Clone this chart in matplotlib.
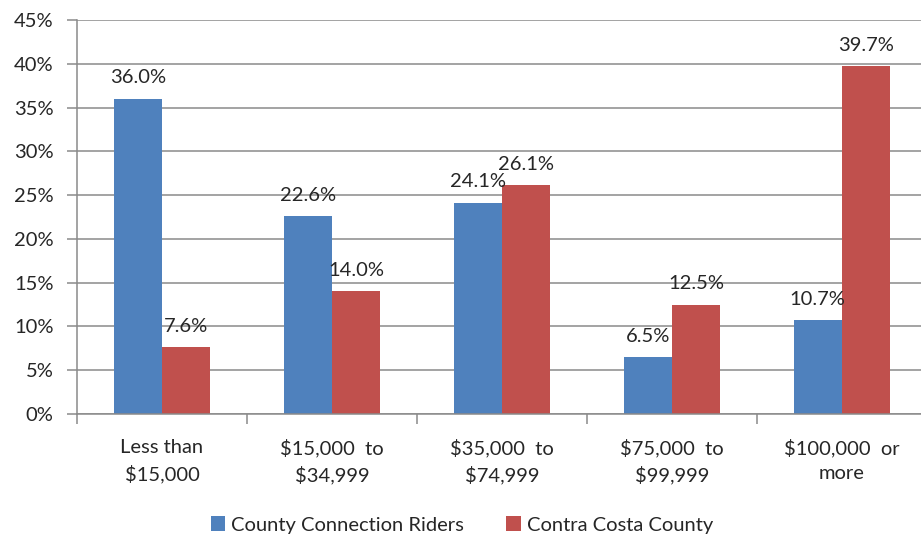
"""Income distribution: County Connection riders vs Contra Costa County."""
import numpy as np
import matplotlib.pyplot as plt

# -------------------------------------------------------
# Data.
# -------------------------------------------------------
categories = ["Less than\n$15,000", "$15,000  to\n$34,999", "$35,000  to\n$74,999",
              "$75,000  to\n$99,999", "$100,000  or\nmore"]
riders = [36.0, 22.6, 24.1, 6.5, 10.7]
county = [7.6, 14.0, 26.1, 12.5, 39.7]
series_names = ["County Connection Riders", "Contra Costa County"]
y_ticks = [0, 5, 10, 15, 20, 25, 30, 35, 40, 45]

# -------------------------------------------------------
# Plot setup.
# -------------------------------------------------------
plt.rcParams["font.family"] = ["Lato", "DejaVu Sans"]
text_color = "#262626"
grid_color = "#8a8a8a"
blue = "#4f81bd"
red = "#c0504d"
fs = 14.5

fig = plt.figure(figsize=(9.21, 5.42), dpi=100)
ax = fig.add_axes([77 / 921, 128 / 542, 850 / 921, 394 / 542])

x = np.arange(len(categories))
width = 0.285
bars1 = ax.bar(x - width / 2, riders, width, color=blue, label=series_names[0], zorder=3)
bars2 = ax.bar(x + width / 2, county, width, color=red, label=series_names[1], zorder=3)

for bars, vals in [(bars1, riders), (bars2, county)]:
    for b, v in zip(bars, vals):
        ax.annotate("%.1f%%" % v, (b.get_x() + b.get_width() / 2, v),
                    xytext=(0, 9), textcoords="offset points",
                    ha="center", va="bottom", fontsize=fs, color=text_color)

# axes
ax.set_xlim(-0.5, len(categories) - 0.5)
ax.set_ylim(0, 45)
ax.set_yticks(y_ticks)
ax.set_yticklabels(["%d%%" % t for t in y_ticks])
ax.yaxis.grid(True, color=grid_color, linewidth=1.1, zorder=0)
ax.set_xticks(x)
ax.set_xticklabels(categories, linespacing=1.55)
ax.set_xticks(np.arange(len(categories) + 1) - 0.5, minor=True)
ax.tick_params(axis="x", which="major", length=0, pad=18, labelsize=fs, labelcolor=text_color)
ax.tick_params(axis="x", which="minor", length=7, color=grid_color, width=1.1)
ax.tick_params(axis="y", length=7, color=grid_color, width=1.1, pad=10,
               labelsize=fs, labelcolor=text_color)
for side in ["top", "right"]:
    ax.spines[side].set_visible(False)
for side in ["left", "bottom"]:
    ax.spines[side].set_color(grid_color)
    ax.spines[side].set_linewidth(1.1)
    ax.spines[side].set_zorder(4)

fig.legend(handles=[bars1, bars2], loc="center", bbox_to_anchor=(462 / 921, 1 - 525 / 542),
           ncol=2, frameon=False, fontsize=fs, handlelength=0.7, handleheight=0.7,
           handletextpad=0.3, columnspacing=2.1, labelcolor=text_color)

plt.savefig("out.png", dpi=100)
plt.close()
